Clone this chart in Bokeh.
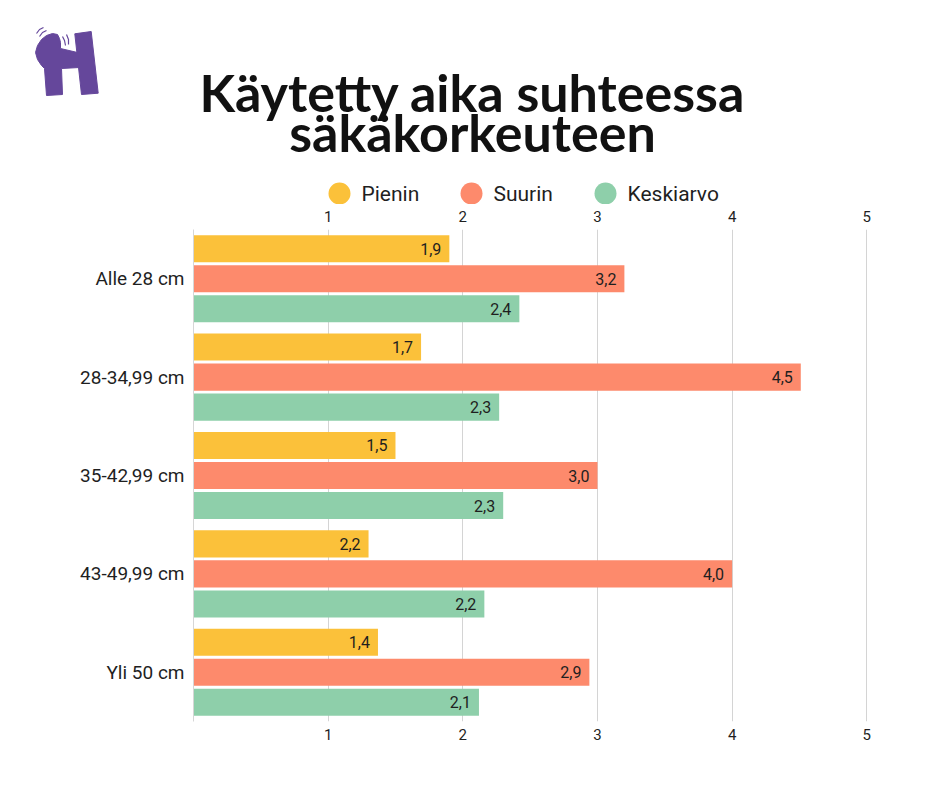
from bokeh.plotting import figure
from bokeh.models import Range1d, FixedTicker, LinearAxis, ColumnDataSource
from bokeh.embed import file_html
from bokeh.resources import INLINE
from bokeh.core.properties import value

# ---------------- data ----------------
title_lines = ["Käytetty aika suhteessa", "säkäkorkeuteen"]
categories = ["Alle 28 cm", "28-34,99 cm", "35-42,99 cm", "43-49,99 cm", "Yli 50 cm"]
series_names = ["Pienin", "Suurin", "Keskiarvo"]
pienin = [1.90, 1.69, 1.50, 1.30, 1.37]
suurin = [3.20, 4.51, 3.00, 4.00, 2.94]
keskiarvo = [2.42, 2.27, 2.30, 2.16, 2.12]
pienin_labels = ["1,9", "1,7", "1,5", "2,2", "1,4"]
suurin_labels = ["3,2", "4,5", "3,0", "4,0", "2,9"]
keskiarvo_labels = ["2,4", "2,3", "2,3", "2,2", "2,1"]
x_ticks = [1, 2, 3, 4, 5]
colors = ["#FBC13A", "#FD8A6C", "#8ECFAA"]

TEXT_COLOR = "#1f1f1f"
W = 940
HEAD_H = 204
MAIN_H = 788 - HEAD_H

# ---------------- header: logo, title, legend (page-pixel coordinates) ----------------
header = figure(width=W, height=HEAD_H, x_range=Range1d(0, W), y_range=Range1d(HEAD_H, 0),
                output_backend="svg", toolbar_location=None, min_border=0,
                x_axis_type=None, y_axis_type=None)
header.grid.visible = False
header.outline_line_color = None

purple = "#65479B"
header.patch(x=[74.3, 90.7, 97.7, 81.0], y=[33.3, 31.0, 92.7, 94.0], color=purple)
header.patch(x=[35, 37, 41, 46, 52, 57, 59, 60, 60, 77, 79, 61, 62, 46, 44, 41, 37],
             y=[52, 45, 39, 35, 33, 34, 38, 42, 48, 52, 67, 68, 94, 95, 68, 65, 59],
             color=purple)
header.multi_line(xs=[[36, 39, 43], [39, 42, 46], [62, 64, 65], [66, 68, 68]],
                  ys=[[33, 29, 27], [36, 32, 30], [36, 40, 45], [34, 39, 44]],
                  line_color=purple, line_width=1.2)

header.text(x=[472, 472], y=[91, 131], text=title_lines, text_font=value("Lato"),
            text_font_style="bold", text_font_size="52px", text_align="center",
            text_baseline="alphabetic", text_color="#111111")

leg_cx = [339, 471, 605]
header.scatter(x=leg_cx, y=[193] * 3, size=22, color=colors, line_color=None)
header.text(x=[c + 22 for c in leg_cx], y=[193] * 3, text=series_names,
            text_font=value("Roboto"), text_font_size="21px", text_align="left",
            text_baseline="middle", text_color=TEXT_COLOR)

# ---------------- main chart ----------------
FL, FR, FT, FB = 193, 873, 229, 721   # frame edges in page pixels
p = figure(width=W, height=MAIN_H, x_range=Range1d(0, 5.05), y_range=Range1d(4.5, -0.5),
           output_backend="svg", toolbar_location=None,
           min_border_left=FL, min_border_right=W - FR,
           min_border_top=FT - HEAD_H, min_border_bottom=788 - FB)
p.outline_line_color = None
p.background_fill_color = "white"

idx = list(range(len(categories)))
offsets = [-0.305, 0.0, 0.305]
series_vals = [pienin, suurin, keskiarvo]
series_lbls = [pienin_labels, suurin_labels, keskiarvo_labels]

for vals, lbls, off, col in zip(series_vals, series_lbls, offsets, colors):
    src = ColumnDataSource(dict(y=[i + off for i in idx], right=vals, lbl=lbls))
    p.hbar(y="y", left=0, right="right", height=0.275, source=src, fill_color=col,
           line_color=None)
    p.text(x="right", y="y", text="lbl", source=src, x_offset=-8, text_align="right",
           text_baseline="middle", text_font=value("Roboto"), text_font_size="16px",
           text_color=TEXT_COLOR)

p.xaxis.ticker = FixedTicker(ticks=x_ticks)
top_axis = LinearAxis(ticker=FixedTicker(ticks=x_ticks))
p.add_layout(top_axis, "above")
for ax in p.xaxis:
    ax.axis_line_color = None
    ax.major_tick_line_color = None
    ax.minor_tick_line_color = None
    ax.major_label_text_font = "Roboto"
    ax.major_label_text_font_size = "15px"
    ax.major_label_text_color = TEXT_COLOR
top_axis.major_label_standoff = 2
p.below[0].major_label_standoff = 1

p.yaxis.ticker = FixedTicker(ticks=idx)
p.yaxis.major_label_overrides = {i: c for i, c in zip(idx, categories)}
p.yaxis.axis_line_color = "#d6d6d6"
p.yaxis.major_tick_line_color = None
p.yaxis.minor_tick_line_color = None
p.yaxis.major_label_text_font = "Roboto"
p.yaxis.major_label_text_font_size = "19px"
p.yaxis.major_label_text_color = TEXT_COLOR
p.yaxis.major_label_standoff = 3

p.xgrid.ticker = FixedTicker(ticks=x_ticks)
p.xgrid.grid_line_color = "#d4d4d4"
p.ygrid.visible = False

open("out.html", "w").write(file_html([header, p], INLINE))
